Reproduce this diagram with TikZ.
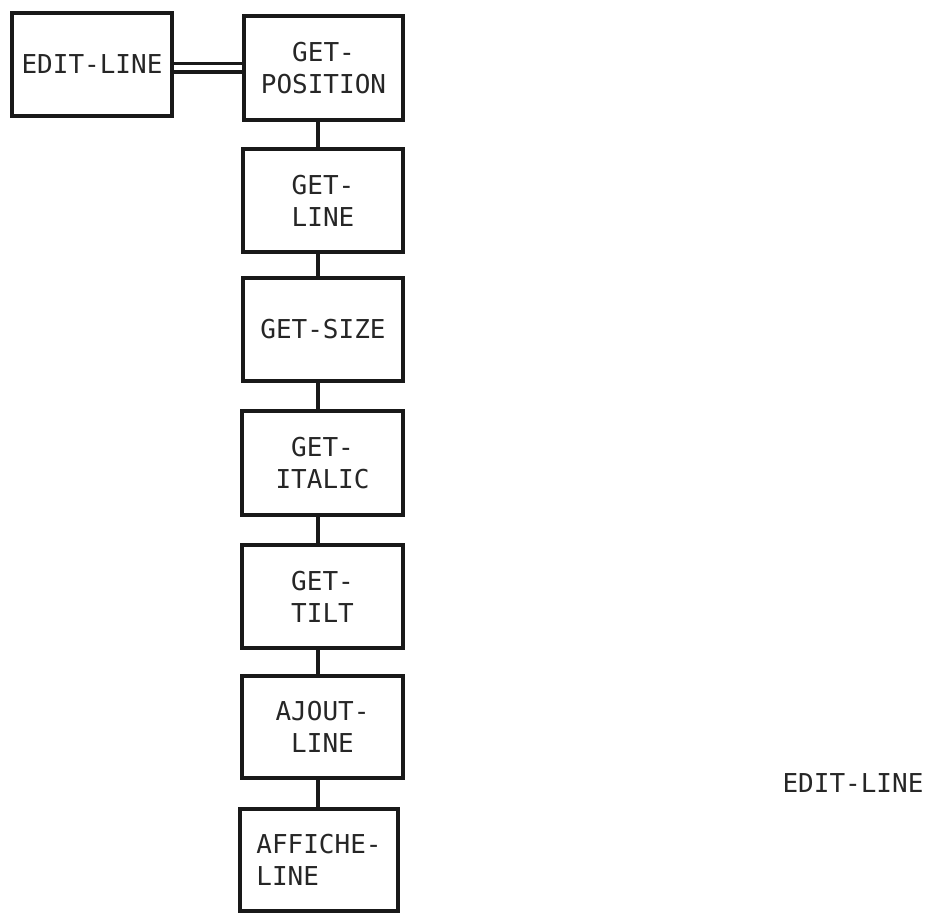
\documentclass[tikz,border=0pt]{standalone}
\usepackage{fontspec}
\setmonofont{DejaVu Sans Mono}
\begin{document}
\begin{tikzpicture}[x=1pt,y=-1pt,
  box/.style={draw=black!90, line width=4pt, minimum width=160pt, minimum height=103pt,
    inner sep=0pt, align=center, font=\ttfamily\fontsize{26}{32}\selectfont, text=black!85},
  link/.style={draw=black!90, line width=4pt},
  dlink/.style={draw=black!90, double, line width=3.5pt, double distance=5pt}]
\useasboundingbox (0,0) rectangle (931,913);
\node[box] (el) at (92,64.5) {EDIT-LINE};
\node[box, minimum width=159pt, minimum height=104pt] (gp) at (323.5,68) {GET-\\POSITION};
\node[box] (gl) at (323,200.5) {GET-\\LINE};
\node[box] (gs) at (323,329.5) {GET-SIZE};
\node[box, minimum width=161pt, minimum height=104pt] (gi) at (322.5,463) {GET-\\ITALIC};
\node[box, minimum width=161pt] (gt) at (322.5,596.5) {GET-\\TILT};
\node[box, minimum width=161pt, minimum height=102pt] (aj) at (322.5,727) {AJOUT-\\LINE};
\node[box, minimum width=158pt, minimum height=102pt, align=left] (af) at (319,859.5) {AFFICHE-\\LINE};
\node[font=\ttfamily\fontsize{26}{32}\selectfont, text=black!85, inner sep=0pt] (title) at (853,783) {EDIT-LINE};
\coordinate (cx) at (318,0);
\coordinate (cy) at (0,67.5);
\draw[dlink] (el.east |- cy) -- (gp.west |- cy);
\draw[link] (gp.south -| cx) -- (gl.north -| cx);
\draw[link] (gl.south -| cx) -- (gs.north -| cx);
\draw[link] (gs.south -| cx) -- (gi.north -| cx);
\draw[link] (gi.south -| cx) -- (gt.north -| cx);
\draw[link] (gt.south -| cx) -- (aj.north -| cx);
\draw[link] (aj.south -| cx) -- (af.north -| cx);
\end{tikzpicture}
\end{document}
